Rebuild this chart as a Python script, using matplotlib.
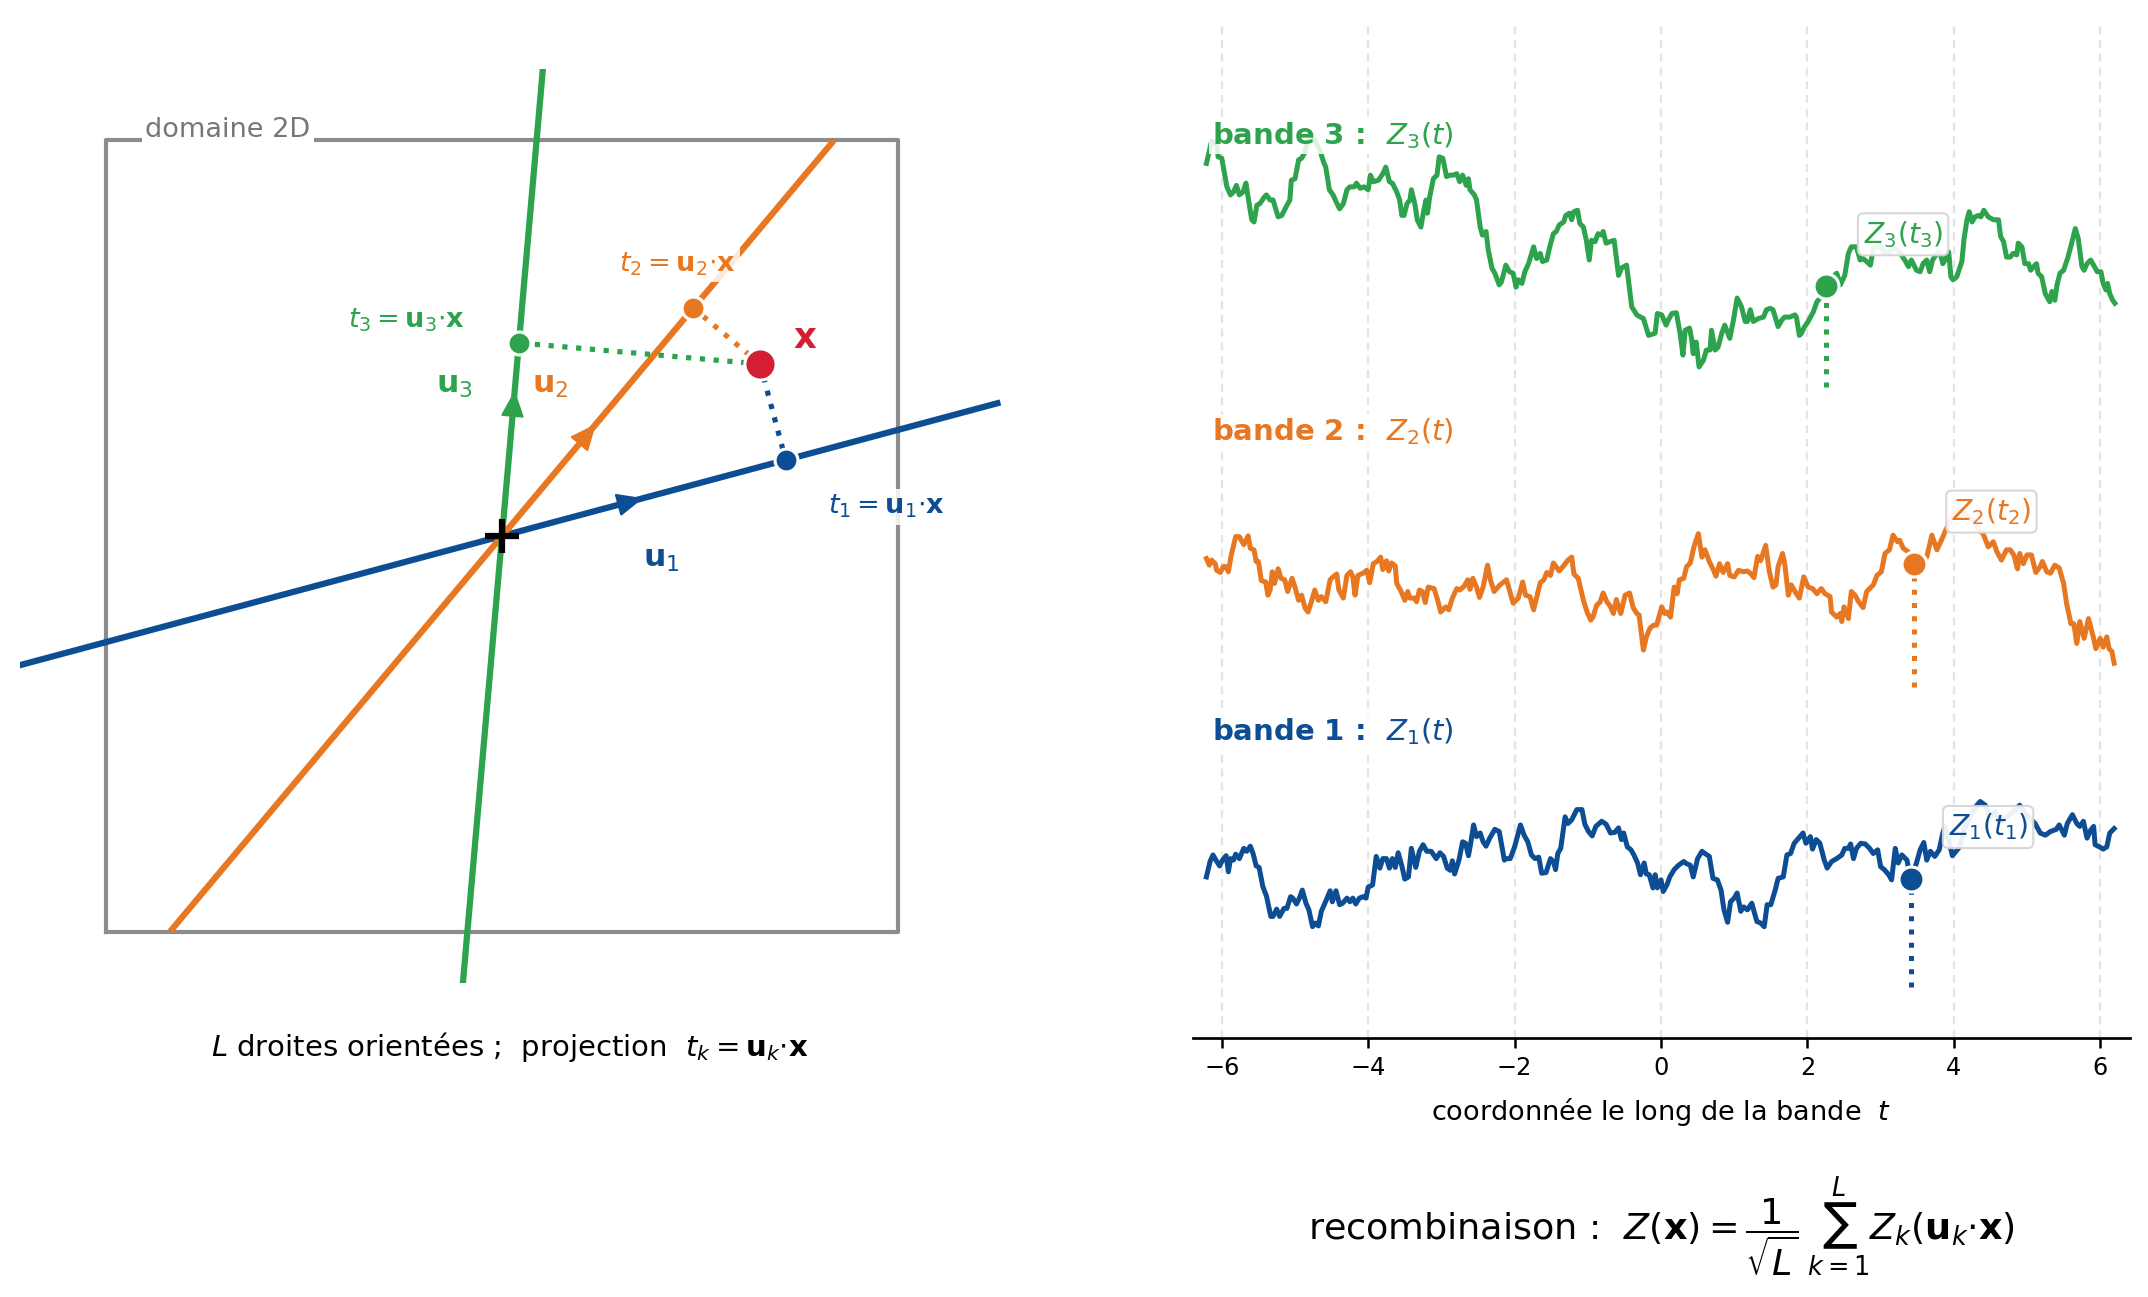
import numpy as np
import matplotlib
matplotlib.use("Agg")
import matplotlib.pyplot as plt

# ---------------- colours ----------------
C_BLUE, C_ORANGE, C_GREEN, C_RED = "#0c4d94", "#e87722", "#2ca34c", "#d21f32"
band_colors = [C_BLUE, C_ORANGE, C_GREEN]

# ---------------- left panel data ----------------
angles_deg = [15.0, 50.0, 85.0]          # directions u_1, u_2, u_3
x_point = (3.0, 2.0)                     # point x
domain_half = 4.6                        # half-size of the 2D domain
line_half = 6.0                          # half-length of the oriented lines

# ---------------- right panel data (t, Z_k(t)) ----------------
pts1 = [(-6.21,-0.05),(-6.16,0.16),(-6.12,0.25),(-6.08,0.18),(-6.03,0.10),(-5.99,0.18),(-5.94,0.24),(-5.91,0.02),(-5.88,0.20),(-5.84,0.18),(-5.81,0.26),(-5.76,0.20),(-5.70,0.34),(-5.66,0.30),(-5.61,0.37),(-5.57,0.26),(-5.53,0.10),(-5.49,0.08),(-5.44,-0.18),(-5.39,-0.31),(-5.33,-0.59),(-5.30,-0.59),(-5.25,-0.49),(-5.21,-0.59),(-5.15,-0.48),(-5.11,-0.48),(-5.06,-0.32),(-5.03,-0.34),(-4.98,-0.42),(-4.94,-0.34),(-4.90,-0.23),(-4.85,-0.41),(-4.81,-0.50),(-4.76,-0.73),(-4.72,-0.68),(-4.68,-0.72),(-4.64,-0.52),(-4.57,-0.36),(-4.52,-0.24),(-4.49,-0.39),(-4.44,-0.24),(-4.39,-0.43),(-4.35,-0.41),(-4.29,-0.34),(-4.25,-0.39),(-4.21,-0.34),(-4.17,-0.42),(-4.12,-0.34),(-4.07,-0.32),(-4.03,-0.34),(-4.00,-0.19),(-3.94,-0.16),(-3.89,0.23),(-3.84,0.07),(-3.80,0.20),(-3.75,0.20),(-3.71,0.07),(-3.67,0.20),(-3.63,0.08),(-3.59,0.28),(-3.54,0.10),(-3.50,-0.08),(-3.45,-0.05),(-3.41,0.34),(-3.35,0.08),(-3.30,0.30),(-3.25,0.39),(-3.20,0.30),(-3.14,0.30),(-3.07,0.20),(-3.02,0.28),(-2.97,0.23),(-2.92,0.07),(-2.88,0.04),(-2.85,0.17),(-2.82,-0.01),(-2.76,0.18),(-2.71,0.43),(-2.67,0.41),(-2.63,0.24),(-2.60,0.41),(-2.56,0.66),(-2.52,0.50),(-2.47,0.55),(-2.43,0.43),(-2.39,0.37),(-2.34,0.48),(-2.27,0.60),(-2.21,0.57),(-2.14,0.18),(-2.11,0.20),(-2.06,0.20),(-2.00,0.36),(-1.92,0.66),(-1.87,0.52),(-1.82,0.43),(-1.77,0.25),(-1.72,0.20),(-1.67,0.22),(-1.63,0.00),(-1.57,0.01),(-1.51,0.20),(-1.47,0.16),(-1.44,0.05),(-1.41,0.27),(-1.37,0.34),(-1.31,0.77),(-1.27,0.68),(-1.22,0.73),(-1.15,0.87),(-1.08,0.87),(-1.04,0.67),(-0.99,0.57),(-0.94,0.51),(-0.89,0.64),(-0.81,0.71),(-0.75,0.67),(-0.69,0.55),(-0.63,0.56),(-0.58,0.62),(-0.54,0.46),(-0.51,0.55),(-0.46,0.36),(-0.41,0.32),(-0.37,0.25),(-0.32,0.14),(-0.28,-0.02),(-0.23,0.14),(-0.20,-0.01),(-0.16,-0.02),(-0.11,-0.20),(-0.08,-0.02),(-0.05,-0.20),(0.00,-0.09),(0.03,-0.25),(0.08,-0.16),(0.12,-0.05),(0.18,0.05),(0.24,0.11),(0.31,0.16),(0.35,0.13),(0.40,0.11),(0.44,-0.05),(0.50,0.20),(0.56,0.30),(0.60,0.27),(0.66,0.23),(0.71,-0.07),(0.77,-0.09),(0.82,-0.23),(0.86,-0.50),(0.91,-0.67),(0.95,-0.39),(1.00,-0.34),(1.04,-0.27),(1.09,-0.52),(1.13,-0.46),(1.18,-0.50),(1.24,-0.41),(1.31,-0.66),(1.36,-0.68),(1.41,-0.73),(1.45,-0.43),(1.50,-0.43),(1.56,-0.23),(1.60,-0.07),(1.67,-0.05),(1.72,0.25),(1.77,0.27),(1.82,0.41),(1.88,0.48),(1.94,0.55),(1.98,0.41),(2.04,0.50),(2.07,0.33),(2.12,0.46),(2.17,0.41),(2.23,0.18),(2.27,0.07),(2.33,0.16),(2.40,0.20),(2.47,0.25),(2.51,0.34),(2.56,0.34),(2.59,0.40),(2.63,0.20),(2.67,0.34),(2.73,0.41),(2.79,0.40),(2.85,0.34),(2.90,0.27),(2.96,0.32),(3.00,0.09),(3.05,0.05),(3.11,-0.02),(3.15,-0.09),(3.20,0.34),(3.24,0.14),(3.29,0.25),(3.36,0.18),(3.41,-0.08),(3.49,0.14),(3.54,0.32),(3.59,0.42),(3.63,0.18),(3.68,0.30),(3.74,0.23),(3.80,0.32),(3.85,0.55),(3.88,0.64),(3.94,0.41),(3.98,0.24),(4.03,0.30),(4.08,0.36),(4.14,0.59),(4.22,0.77),(4.30,0.91),(4.36,0.98),(4.43,0.93),(4.49,0.77),(4.56,0.84),(4.63,0.71),(4.72,0.77),(4.81,0.84),(4.90,0.93),(4.97,0.82),(5.04,0.75),(5.11,0.68),(5.18,0.55),(5.25,0.52),(5.32,0.57),(5.40,0.60),(5.44,0.66),(5.51,0.52),(5.55,0.68),(5.62,0.80),(5.68,0.68),(5.72,0.64),(5.77,0.71),(5.82,0.48),(5.87,0.59),(5.91,0.64),(5.93,0.39),(5.99,0.36),(6.04,0.33),(6.09,0.36),(6.13,0.55),(6.19,0.61)]

pts2 = [(-6.21,0.34),(-6.17,0.25),(-6.14,0.32),(-6.09,0.27),(-6.07,0.18),(-6.02,0.15),(-5.98,0.23),(-5.94,0.23),(-5.91,0.16),(-5.87,0.39),(-5.81,0.64),(-5.76,0.64),(-5.70,0.53),(-5.64,0.65),(-5.61,0.48),(-5.56,0.46),(-5.53,0.30),(-5.50,0.30),(-5.46,0.04),(-5.40,0.02),(-5.37,-0.16),(-5.34,-0.09),(-5.31,0.16),(-5.28,0.00),(-5.23,0.20),(-5.19,0.07),(-5.14,0.05),(-5.10,-0.11),(-5.04,0.07),(-5.00,-0.05),(-4.95,-0.23),(-4.91,-0.16),(-4.86,-0.34),(-4.82,-0.39),(-4.77,-0.23),(-4.73,-0.09),(-4.68,-0.23),(-4.64,-0.18),(-4.58,-0.25),(-4.52,0.05),(-4.48,0.09),(-4.43,0.13),(-4.40,-0.09),(-4.34,-0.20),(-4.29,0.11),(-4.24,0.16),(-4.21,0.09),(-4.18,-0.16),(-4.14,0.11),(-4.07,0.14),(-4.02,0.18),(-3.98,0.01),(-3.93,0.27),(-3.88,0.30),(-3.83,0.36),(-3.80,0.19),(-3.75,0.31),(-3.72,0.17),(-3.68,0.28),(-3.63,0.24),(-3.61,0.00),(-3.55,-0.11),(-3.50,-0.23),(-3.46,-0.11),(-3.43,-0.20),(-3.37,-0.20),(-3.34,-0.25),(-3.30,-0.09),(-3.26,-0.11),(-3.22,-0.26),(-3.18,-0.05),(-3.10,-0.07),(-3.05,-0.23),(-3.01,-0.39),(-2.94,-0.32),(-2.90,-0.36),(-2.85,-0.20),(-2.79,-0.07),(-2.75,-0.09),(-2.69,-0.04),(-2.64,0.05),(-2.61,-0.08),(-2.57,0.07),(-2.52,-0.05),(-2.48,-0.19),(-2.43,-0.05),(-2.37,0.25),(-2.33,0.05),(-2.28,-0.11),(-2.20,-0.02),(-2.11,0.05),(-2.02,-0.27),(-1.95,-0.20),(-1.89,0.02),(-1.85,-0.16),(-1.79,-0.18),(-1.74,-0.36),(-1.65,0.01),(-1.60,0.05),(-1.56,0.15),(-1.51,0.11),(-1.47,0.28),(-1.39,0.17),(-1.34,0.23),(-1.27,0.32),(-1.22,0.36),(-1.19,0.13),(-1.13,0.07),(-1.06,-0.23),(-1.01,-0.39),(-0.96,-0.50),(-0.93,-0.46),(-0.88,-0.30),(-0.83,-0.25),(-0.79,-0.13),(-0.74,-0.25),(-0.70,-0.30),(-0.65,-0.41),(-0.61,-0.22),(-0.55,-0.41),(-0.49,-0.16),(-0.43,-0.13),(-0.38,-0.33),(-0.33,-0.41),(-0.30,-0.43),(-0.24,-0.91),(-0.20,-0.73),(-0.15,-0.61),(-0.10,-0.57),(-0.06,-0.57),(0.01,-0.32),(0.05,-0.41),(0.08,-0.39),(0.13,-0.46),(0.18,-0.05),(0.22,-0.14),(0.25,0.05),(0.31,0.07),(0.35,0.23),(0.40,0.28),(0.45,0.50),(0.51,0.68),(0.56,0.36),(0.60,0.46),(0.66,0.30),(0.71,0.20),(0.75,0.10),(0.80,0.27),(0.85,0.15),(0.91,0.27),(0.94,0.11),(1.00,0.09),(1.06,0.18),(1.12,0.16),(1.18,0.17),(1.22,0.14),(1.27,0.08),(1.32,0.37),(1.36,0.31),(1.43,0.52),(1.48,0.16),(1.53,-0.05),(1.57,-0.02),(1.60,0.23),(1.66,0.41),(1.69,0.27),(1.74,-0.16),(1.78,-0.02),(1.83,-0.11),(1.89,-0.20),(1.95,0.09),(2.01,-0.05),(2.07,-0.07),(2.13,-0.14),(2.19,-0.07),(2.24,-0.14),(2.31,-0.18),(2.33,-0.39),(2.40,-0.46),(2.45,-0.41),(2.47,-0.52),(2.50,-0.32),(2.56,-0.48),(2.60,-0.11),(2.65,-0.16),(2.70,-0.25),(2.76,-0.33),(2.81,-0.11),(2.90,-0.02),(2.95,0.11),(3.01,0.16),(3.06,0.41),(3.12,0.46),(3.17,0.66),(3.23,0.57),(3.26,0.59),(3.31,0.48),(3.38,0.43),(3.45,0.27),(3.54,0.34),(3.63,0.36),(3.70,0.66),(3.77,0.46),(3.83,0.59),(3.89,0.73),(3.99,0.93),(4.08,1.02),(4.18,0.91),(4.27,0.87),(4.34,0.73),(4.40,0.68),(4.47,0.50),(4.54,0.57),(4.59,0.43),(4.65,0.32),(4.72,0.46),(4.77,0.46),(4.82,0.39),(4.87,0.20),(4.90,0.41),(4.95,0.27),(5.00,0.39),(5.06,0.39),(5.12,0.15),(5.18,0.23),(5.21,0.30),(5.27,0.16),(5.32,0.14),(5.38,0.25),(5.44,0.21),(5.50,0.00),(5.54,-0.27),(5.60,-0.55),(5.64,-0.55),(5.68,-0.82),(5.72,-0.52),(5.78,-0.75),(5.84,-0.48),(5.91,-0.75),(5.94,-0.89),(6.00,-0.75),(6.04,-0.87),(6.09,-0.73),(6.12,-0.89),(6.16,-0.93),(6.19,-1.09)]

pts3 = [(-6.21,1.23),(-6.14,1.53),(-6.07,1.50),(-6.05,1.32),(-6.00,1.30),(-5.93,0.91),(-5.88,0.80),(-5.84,0.84),(-5.80,0.93),(-5.76,0.80),(-5.71,0.84),(-5.67,0.96),(-5.62,0.64),(-5.59,0.46),(-5.56,0.43),(-5.52,0.66),(-5.48,0.68),(-5.42,0.77),(-5.39,0.80),(-5.34,0.73),(-5.30,0.73),(-5.23,0.50),(-5.18,0.52),(-5.12,0.64),(-5.07,0.73),(-5.05,1.00),(-5.00,1.02),(-4.95,1.28),(-4.91,1.30),(-4.86,1.39),(-4.84,1.50),(-4.80,1.57),(-4.73,1.55),(-4.66,1.41),(-4.61,1.25),(-4.58,1.18),(-4.53,0.87),(-4.48,0.80),(-4.44,0.71),(-4.39,0.61),(-4.34,0.68),(-4.29,0.87),(-4.25,0.91),(-4.19,0.91),(-4.16,0.96),(-4.11,0.89),(-4.06,0.91),(-4.00,0.87),(-3.97,1.07),(-3.93,0.98),(-3.86,1.00),(-3.80,1.09),(-3.76,1.18),(-3.71,0.98),(-3.67,0.96),(-3.61,0.84),(-3.57,0.73),(-3.54,0.52),(-3.51,0.52),(-3.47,0.68),(-3.43,0.73),(-3.41,0.87),(-3.36,0.66),(-3.33,0.46),(-3.28,0.36),(-3.24,0.59),(-3.21,0.73),(-3.19,0.55),(-3.16,0.77),(-3.11,1.02),(-3.06,1.07),(-3.03,1.32),(-2.98,1.30),(-2.93,1.05),(-2.88,1.07),(-2.84,1.07),(-2.79,1.09),(-2.75,0.98),(-2.71,1.07),(-2.66,0.93),(-2.63,1.02),(-2.61,0.87),(-2.55,0.80),(-2.52,0.73),(-2.47,0.36),(-2.44,0.25),(-2.39,0.30),(-2.36,0.05),(-2.31,-0.20),(-2.27,-0.27),(-2.21,-0.43),(-2.18,-0.39),(-2.12,-0.16),(-2.07,-0.25),(-2.02,-0.27),(-1.98,-0.46),(-1.95,-0.36),(-1.90,-0.41),(-1.86,-0.25),(-1.81,-0.14),(-1.74,0.09),(-1.70,-0.07),(-1.65,0.00),(-1.62,-0.11),(-1.56,-0.09),(-1.52,0.09),(-1.47,0.27),(-1.43,0.30),(-1.39,0.39),(-1.33,0.43),(-1.30,0.52),(-1.25,0.55),(-1.22,0.46),(-1.19,0.57),(-1.14,0.59),(-1.11,0.41),(-1.06,0.36),(-1.02,0.18),(-0.98,-0.09),(-0.95,0.18),(-0.90,0.16),(-0.86,0.27),(-0.81,0.25),(-0.79,0.30),(-0.75,0.14),(-0.70,0.16),(-0.64,0.18),(-0.58,-0.30),(-0.54,-0.20),(-0.47,-0.16),(-0.40,-0.73),(-0.33,-0.84),(-0.28,-0.87),(-0.24,-0.89),(-0.17,-1.12),(-0.08,-1.09),(-0.05,-0.82),(0.01,-0.84),(0.07,-0.98),(0.10,-0.91),(0.15,-0.82),(0.21,-0.81),(0.26,-1.09),(0.30,-1.39),(0.33,-1.05),(0.39,-1.02),(0.42,-1.18),(0.44,-1.37),(0.48,-1.21),(0.52,-1.55),(0.58,-1.46),(0.62,-1.32),(0.67,-1.32),(0.69,-1.05),(0.74,-1.32),(0.78,-1.28),(0.83,-1.09),(0.87,-0.98),(0.94,-1.16),(0.99,-0.91),(1.04,-0.61),(1.10,-0.73),(1.15,-0.93),(1.18,-0.93),(1.22,-0.77),(1.26,-0.93),(1.33,-0.89),(1.40,-0.87),(1.44,-0.77),(1.49,-0.75),(1.53,-0.77),(1.60,-1.00),(1.65,-0.91),(1.69,-0.87),(1.76,-0.87),(1.83,-0.84),(1.85,-0.87),(1.89,-1.12),(1.92,-1.09),(1.95,-1.02),(2.01,-0.93),(2.08,-0.80),(2.13,-0.66),(2.19,-0.59),(2.25,-0.45),(2.35,-0.32),(2.40,-0.27),(2.45,-0.43),(2.51,-0.30),(2.56,0.00),(2.60,0.09),(2.67,0.09),(2.72,-0.09),(2.76,-0.07),(2.81,-0.11),(2.86,-0.16),(2.90,0.07),(2.99,0.11),(3.04,0.02),(3.13,0.02),(3.17,0.09),(3.27,0.00),(3.33,-0.09),(3.38,-0.18),(3.42,-0.09),(3.49,-0.23),(3.54,-0.25),(3.58,-0.14),(3.63,-0.09),(3.67,-0.25),(3.71,-0.09),(3.77,0.00),(3.81,0.02),(3.85,-0.14),(3.88,-0.09),(3.93,0.02),(3.96,-0.32),(3.99,-0.36),(4.04,-0.32),(4.11,-0.11),(4.14,0.20),(4.18,0.46),(4.21,0.57),(4.25,0.43),(4.29,0.50),(4.34,0.52),(4.37,0.50),(4.41,0.59),(4.47,0.50),(4.54,0.46),(4.61,0.46),(4.64,0.23),(4.68,0.16),(4.72,-0.05),(4.77,-0.05),(4.81,0.00),(4.86,-0.02),(4.88,0.14),(4.93,0.09),(4.97,-0.14),(5.02,-0.14),(5.05,-0.23),(5.09,-0.18),(5.13,-0.14),(5.15,-0.27),(5.20,-0.32),(5.25,-0.55),(5.31,-0.66),(5.34,-0.52),(5.38,-0.64),(5.41,-0.43),(5.45,-0.27),(5.50,-0.23),(5.56,-0.05),(5.61,0.14),(5.66,0.34),(5.70,0.20),(5.75,-0.18),(5.78,-0.23),(5.82,-0.14),(5.87,-0.09),(5.92,-0.18),(5.96,-0.25),(6.01,-0.25),(6.04,-0.41),(6.08,-0.50),(6.10,-0.41),(6.13,-0.55),(6.17,-0.64),(6.20,-0.68)]

band_points = [pts1, pts2, pts3]
dot_values = [-0.08, 0.27, -0.45]        # Z_k(t_k) read at the marked points
xticks = [-6, -4, -2, 0, 2, 4, 6]

# layout (vertical placement of the bands, labels, dotted drops)
band_offsets = [0.0, 3.96, 8.47]
label_y = [1.94, 6.03, 10.08]
drop_bottom = [-1.55, 2.55, 6.65]

# ---------------- figure ----------------
W, H = 2148, 1297
fig = plt.figure(figsize=(W / 150, H / 150), dpi=150)

# ===== left panel =====
axL = fig.add_axes([20.4 / W, 1 - 983.2 / H, 997.6 / W, 914.2 / H])
axL.set_xlim(-5.6, 6.0)
axL.set_ylim(-5.2, 5.43)
axL.axis("off")

h = domain_half
axL.plot([-h, h, h, -h, -h], [-h, -h, h, h, -h], color="#8c8c8c", lw=2.0, zorder=1)
axL.text(-4.15, 4.64, "domaine 2D", color="#777777", fontsize=13, ha="left", va="baseline",
         bbox=dict(boxstyle="square,pad=0.12", fc="white", ec="none"), zorder=1.5)

xp = np.array(x_point)
t_proj = []
u_label_pos = [(1.855, -0.27), (0.56, 1.75), (-0.55, 1.75)]
t_label_pos = [(4.47, 0.34), (2.04, 3.16), (-1.11, 2.51)]
for k, ang in enumerate(angles_deg):
    c = band_colors[k]
    u = np.array([np.cos(np.radians(ang)), np.sin(np.radians(ang))])
    axL.plot([-line_half * u[0], line_half * u[0]], [-line_half * u[1], line_half * u[1]],
             color=c, lw=3.0, solid_capstyle="butt", zorder=2)
    axL.annotate("", xy=tuple(1.70 * u), xytext=tuple(1.1 * u),
                 arrowprops=dict(arrowstyle="-|>,head_length=0.5,head_width=0.22", color=c,
                                 lw=1.0, shrinkA=0, shrinkB=0, mutation_scale=22), zorder=3)
    tk = float(u @ xp)
    t_proj.append(tk)
    p = tk * u
    axL.plot([xp[0], p[0]], [xp[1], p[1]], linestyle=":", color=c, lw=2.5, zorder=3)
    axL.plot(p[0], p[1], "o", ms=11, mfc=c, mec="white", mew=1.5, zorder=5)
    axL.text(*u_label_pos[k], rf"$\mathbf{{u}}_{k+1}$", color=c, fontsize=15,
             ha="center", va="center", zorder=6)
    axL.text(*t_label_pos[k], rf"$t_{k+1} = \mathbf{{u}}_{k+1}{{\cdot}}\mathbf{{x}}$", color=c,
             fontsize=13, ha="center", va="center", zorder=6,
             bbox=dict(boxstyle="square,pad=0.15", fc="white", ec="none", alpha=0.85))

axL.plot(0, 0, "+", color="black", ms=16, mew=3, zorder=6)
axL.plot(xp[0], xp[1], "o", ms=15, mfc=C_RED, mec="white", mew=1.5, zorder=6)
axL.text(3.53, 2.30, r"$\mathbf{x}$", color=C_RED, fontsize=17, ha="center", va="center", zorder=6)

fig.text(510 / W, 1 - 1047 / H,
         r"$L$ droites orientées ;  projection  $t_k = \mathbf{u}_k{\cdot}\mathbf{x}$",
         fontsize=14, ha="center", va="center")

# ===== right panel =====
axR = fig.add_axes([1192.5 / W, 1 - 1037.9 / H, 937.0 / W, (1037.9 - 20) / H])
axR.set_xlim(-6.4, 6.4)
axR.set_ylim(-2.25, 11.66)
for s in ["top", "right", "left"]:
    axR.spines[s].set_visible(False)
axR.spines["bottom"].set_linewidth(1.3)
axR.set_yticks([])
axR.set_xticks(xticks)
axR.tick_params(axis="x", labelsize=11.5, length=5, width=1.2)
for xt in xticks:
    axR.axvline(xt, color="#e4e4e4", lw=1.1, linestyle=(0, (3.5, 2.5)), zorder=0)
axR.set_xlabel("coordonnée le long de la bande  $t$", fontsize=13, labelpad=8)

for k in range(3):
    c = band_colors[k]
    tt = [p[0] for p in band_points[k]]
    zz = [p[1] + band_offsets[k] for p in band_points[k]]
    axR.plot(tt, zz, color=c, lw=2.4, zorder=2)
    axR.text(-6.13, label_y[k], f"bande {k+1} :  " + rf"$Z_{k+1}(t)$", color=c, fontsize=14,
             fontweight="bold", ha="left", va="center", zorder=4,
             bbox=dict(boxstyle="square,pad=0.1", fc="white", ec="none", alpha=0.85))
    yd = dot_values[k] + band_offsets[k]
    axR.plot([t_proj[k], t_proj[k]], [drop_bottom[k], yd], linestyle=":", color=c, lw=2.4, zorder=3)
    axR.plot(t_proj[k], yd, "o", ms=12, mfc=c, mec="white", mew=1.5, zorder=5)
    axR.annotate(rf"$Z_{k+1}(t_{k+1})$", xy=(t_proj[k], yd), xytext=(37, 25),
                 textcoords="offset points", ha="center", va="center", fontsize=13.5, color=c,
                 bbox=dict(boxstyle="round,pad=0.2", fc="white", ec="#d4d4d4", lw=1, alpha=0.92),
                 zorder=6)

fig.text(1662 / W, 1 - 1227 / H,
         r"recombinaison :  $Z(\mathbf{x}) = \dfrac{1}{\sqrt{L}}\,\sum_{k=1}^{L} Z_k(\mathbf{u}_k{\cdot}\mathbf{x})$",
         fontsize=17.5, ha="center", va="center")

fig.savefig("out.png", dpi=150)
